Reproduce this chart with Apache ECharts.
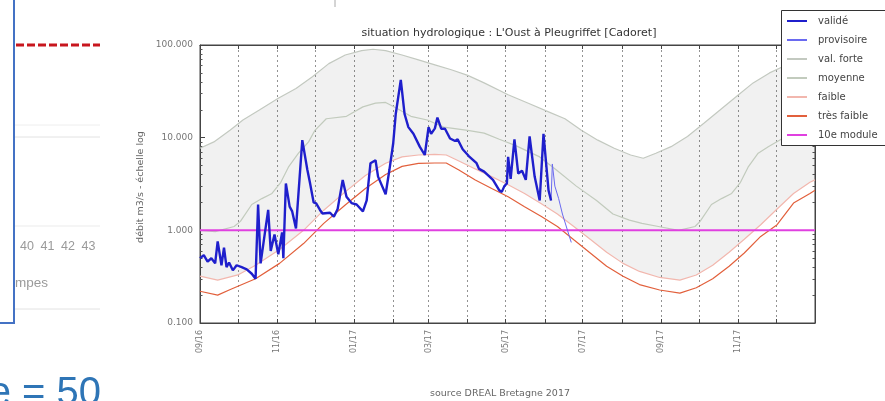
<!DOCTYPE html>
<html><head><meta charset="utf-8">
<script src="https://cdn.jsdelivr.net/npm/echarts@6/dist/echarts.min.js"></script>
<style>html,body{margin:0;padding:0;background:#fff}#c{width:885px;height:401px}</style>
</head><body><div id="c"></div>
<script>
const xMin = '2016-09-01', xMax = '2018-01-01';
const legendNames = ['validé','provisoire','val. forte','moyenne','faible','très faible','10e module'];

const valide = [
['2016-09-01',0.50],['2016-09-04',0.54],['2016-09-07',0.46],['2016-09-10',0.50],['2016-09-13',0.44],
['2016-09-15',0.76],['2016-09-18',0.42],['2016-09-20',0.65],['2016-09-22',0.40],['2016-09-24',0.45],
['2016-09-27',0.37],['2016-09-30',0.42],['2016-10-04',0.40],['2016-10-08',0.38],['2016-10-12',0.34],
['2016-10-15',0.30],['2016-10-17',1.90],['2016-10-19',0.44],['2016-10-22',0.86],['2016-10-25',1.66],
['2016-10-27',0.60],['2016-10-30',0.90],['2016-11-02',0.55],['2016-11-05',0.95],['2016-11-06',0.50],
['2016-11-08',3.2],['2016-11-11',1.8],['2016-11-13',1.6],['2016-11-16',1.05],['2016-11-17',1.0],
['2016-11-21',9.4],['2016-11-25',4.5],['2016-11-27',3.3],['2016-11-30',2.0],['2016-12-02',1.95],
['2016-12-05',1.66],['2016-12-07',1.52],['2016-12-13',1.55],['2016-12-16',1.40],['2016-12-19',1.70],
['2016-12-23',3.5],['2016-12-26',2.3],['2016-12-30',1.97],['2017-01-03',1.90],['2017-01-08',1.60],
['2017-01-11',2.1],['2017-01-14',5.3],['2017-01-18',5.7],['2017-01-20',3.8],['2017-01-26',2.45],
['2017-01-29',4.5],['2017-02-01',8.7],['2017-02-03',18],['2017-02-07',42],['2017-02-10',18],
['2017-02-13',13],['2017-02-17',11],['2017-02-22',8.0],['2017-02-26',6.5],['2017-03-01',13],
['2017-03-03',11],['2017-03-06',12.6],['2017-03-08',16.5],['2017-03-11',12.5],['2017-03-14',12.5],
['2017-03-18',9.8],['2017-03-22',9.2],['2017-03-24',9.6],['2017-03-28',7.5],['2017-04-02',6.3],
['2017-04-08',5.3],['2017-04-10',4.6],['2017-04-14',4.3],['2017-04-21',3.5],['2017-04-26',2.7],
['2017-04-28',2.6],['2017-04-30',3.0],['2017-05-02',3.2],['2017-05-03',6.2],['2017-05-05',3.6],
['2017-05-08',9.6],['2017-05-11',4.1],['2017-05-14',4.4],['2017-05-17',3.5],['2017-05-20',10.3],
['2017-05-24',3.8],['2017-05-28',2.1],['2017-05-31',11],['2017-06-04',2.7],['2017-06-06',2.1]
];
const provisoire = [
['2017-06-06',2.1],['2017-06-07',5.2],['2017-06-09',3.0],['2017-06-12',2.2],['2017-06-15',1.5],
['2017-06-19',1.0],['2017-06-22',0.74]
];
const valForte = [
['2016-09-01',7.7],['2016-09-12',9.0],['2016-09-25',12.1],['2016-10-05',15.5],['2016-10-18',19.9],
['2016-11-02',26.6],['2016-11-16',34],['2016-11-29',45.5],['2016-12-12',63],['2016-12-25',78],
['2017-01-07',87],['2017-01-16',90],['2017-01-26',87],['2017-02-08',78],['2017-02-21',69],
['2017-03-06',61],['2017-03-19',54],['2017-04-01',47],['2017-04-14',39],['2017-05-03',29],
['2017-05-19',23.5],['2017-06-04',19],['2017-06-17',16],['2017-06-30',12],['2017-07-13',9.4],
['2017-07-26',7.7],['2017-08-08',6.5],['2017-08-18',6.0],['2017-08-28',6.8],['2017-09-09',8.0],
['2017-09-22',10.3],['2017-10-05',14.3],['2017-10-18',20],['2017-10-31',28],['2017-11-13',39],
['2017-11-26',50],['2017-12-06',58],['2017-12-19',72],['2018-01-01',84]
];
const moyenne = [
['2016-09-01',1.0],['2016-09-13',0.97],['2016-09-28',1.1],['2016-10-03',1.25],['2016-10-12',1.9],
['2016-10-20',2.2],['2016-10-28',2.5],['2016-11-04',3.3],['2016-11-10',4.8],['2016-11-18',6.8],
['2016-11-26',9.0],['2016-12-01',12],['2016-12-10',16],['2016-12-26',17],['2017-01-08',21.5],
['2017-01-18',23.6],['2017-01-26',24],['2017-02-03',21],['2017-02-15',17],['2017-02-28',15.5],
['2017-03-13',13],['2017-04-01',12],['2017-04-14',11.2],['2017-04-26',9.6],['2017-05-09',8.2],
['2017-05-28',6.2],['2017-06-10',4.5],['2017-06-26',3.0],['2017-07-12',2.1],['2017-07-25',1.5],
['2017-08-07',1.29],['2017-08-17',1.19],['2017-08-30',1.1],['2017-09-15',1.0],['2017-09-28',1.1],
['2017-10-02',1.25],['2017-10-11',1.9],['2017-10-19',2.2],['2017-10-27',2.5],['2017-11-03',3.3],
['2017-11-09',4.8],['2017-11-17',6.8],['2017-11-25',8.0],['2017-12-09',10.3],['2018-01-01',15]
];
const faible = [
['2016-09-01',0.32],['2016-09-15',0.29],['2016-10-01',0.33],['2016-10-15',0.42],['2016-11-03',0.62],
['2016-11-22',1.0],['2016-12-08',1.65],['2016-12-25',2.6],['2017-01-10',3.9],['2017-01-26',5.3],
['2017-02-08',6.2],['2017-02-21',6.5],['2017-03-06',6.6],['2017-03-15',6.5],['2017-03-25',5.6],
['2017-04-07',4.6],['2017-04-20',3.8],['2017-05-03',3.1],['2017-05-16',2.5],['2017-05-29',1.95],
['2017-06-11',1.5],['2017-06-24',1.1],['2017-07-07',0.8],['2017-07-20',0.58],['2017-08-02',0.44],
['2017-08-15',0.36],['2017-08-31',0.31],['2017-09-16',0.29],['2017-09-29',0.33],['2017-10-12',0.42],
['2017-10-25',0.58],['2017-11-06',0.8],['2017-11-19',1.15],['2017-12-02',1.7],['2017-12-15',2.5],
['2017-12-28',3.3],['2018-01-01',3.5]
];
const tresFaible = [
['2016-09-01',0.22],['2016-09-15',0.20],['2016-09-25',0.23],['2016-10-15',0.30],['2016-11-03',0.44],
['2016-11-22',0.72],['2016-12-08',1.19],['2016-12-25',1.88],['2017-01-10',2.83],['2017-01-26',4.0],
['2017-02-08',4.9],['2017-02-21',5.27],['2017-03-06',5.33],['2017-03-15',5.33],['2017-03-25',4.48],
['2017-04-07',3.49],['2017-04-20',2.83],['2017-05-03',2.3],['2017-05-16',1.8],['2017-05-29',1.42],
['2017-06-11',1.1],['2017-06-24',0.79],['2017-07-07',0.57],['2017-07-20',0.41],['2017-08-02',0.32],
['2017-08-15',0.26],['2017-08-31',0.227],['2017-09-16',0.21],['2017-09-29',0.24],['2017-10-12',0.30],
['2017-10-25',0.41],['2017-11-06',0.57],['2017-11-19',0.86],['2017-12-02',1.15],['2017-12-15',1.97],
['2017-12-28',2.5],['2018-01-01',2.7]
];
const module10 = [['2016-09-01',1.0],['2018-01-01',1.0]];
const otherAxisLabels = ['0', '40', '41', '42', '43'];

const chart = echarts.init(document.getElementById('c'));
const T = s => echarts.time.parse(s).getTime();
const xMaxT = T(xMax);
const MONTH = 30.4 * 86400000;

function xFmt(val) {
  if (val >= xMaxT - 86400000) return '';
  const d = new Date(val);
  const m = d.getMonth() + 1;
  if (m % 2 === 0) return '';
  return String(m).padStart(2, '0') + '/' + String(d.getFullYear() % 100).padStart(2, '0');
}

const lineS = (name, data, color, width, z) => ({
  name, type: 'line', data, symbol: 'none', showSymbol: false, z: z || 3,
  lineStyle: { color, width }, itemStyle: { color }, silent: true
});

const F = "'DejaVu Sans', sans-serif";
const L = "'Liberation Sans', sans-serif";

const otherLabelsGraphic = otherAxisLabels.map((t, i) => ({
  type: 'text', x: i === 0 ? 12 : 27 + (i - 1) * 20.5, y: 247,
  style: { text: t, fontSize: 12.5, fill: '#9a9a9a', fontFamily: L, align: 'center', verticalAlign: 'middle' }
}));

chart.setOption({
  animation: false,
  backgroundColor: '#fff',
  textStyle: { fontFamily: F },
  grid: { left: 200, right: 70, top: 45, bottom: 78, show: true, borderColor: '#444', borderWidth: 1, containLabel: false },
  legend: {
    data: legendNames, orient: 'vertical', left: 786, top: 16,
    itemWidth: 20, itemHeight: 8, itemGap: 9.0,
    padding: 0,
    backgroundColor: 'transparent', borderWidth: 0,
    itemStyle: { color: 'rgba(0,0,0,0)', borderColor: 'rgba(0,0,0,0)', borderWidth: 0, opacity: 0 },
    textStyle: { fontSize: 10, lineHeight: 10, color: '#444', fontFamily: F, padding: [0, 0, 0, 6] },
    selectedMode: false, z: 12
  },
  xAxis: [{
    type: 'time', min: xMin, max: xMax, splitNumber: 16,
    minInterval: MONTH * 0.9, maxInterval: MONTH * 1.05,
    axisLine: { lineStyle: { color: '#444' } },
    axisTick: { inside: true, length: 4, lineStyle: { color: '#444' } },
    axisLabel: { rotate: 90, fontSize: 8, color: '#777', margin: 7, formatter: xFmt, hideOverlap: false, fontFamily: F },
    splitLine: { show: true, lineStyle: { color: '#777', type: [2, 3], width: 0.8 } }
  }, {
    type: 'time', position: 'top', min: xMin, max: xMax, splitNumber: 16,
    minInterval: MONTH * 0.9, maxInterval: MONTH * 1.05,
    axisLine: { lineStyle: { color: '#444' } },
    axisTick: { inside: true, length: 4, lineStyle: { color: '#444' } },
    axisLabel: { show: false }, splitLine: { show: false }
  }],
  yAxis: [{
    type: 'log', logBase: 10, min: 0.1, max: 100,
    axisLine: { show: true, lineStyle: { color: '#444' } },
    axisTick: { show: true, inside: true, length: 5, lineStyle: { color: '#444' } },
    minorTick: { show: true, splitNumber: 9, length: 2.5, lineStyle: { color: '#555' } },
    axisLabel: { formatter: v => Number(v).toFixed(3), fontSize: 9, color: '#777', margin: 7, fontFamily: F },
    splitLine: { show: false }
  }, {
    type: 'log', logBase: 10, min: 0.1, max: 100, position: 'right',
    axisLine: { show: true, lineStyle: { color: '#444' } },
    axisTick: { show: true, inside: true, length: 5, lineStyle: { color: '#444' } },
    minorTick: { show: true, splitNumber: 9, length: 2.5, lineStyle: { color: '#555' } },
    axisLabel: { show: false }, splitLine: { show: false }
  }],
  series: [
    {
      name: 'band', type: 'custom', silent: true, z: 1,
      data: [[T(xMin), 1]],
      renderItem: (params, api) => {
        const pts = [];
        valForte.forEach(d => pts.push(api.coord([T(d[0]), d[1]])));
        for (let i = faible.length - 1; i >= 0; i--) pts.push(api.coord([T(faible[i][0]), faible[i][1]]));
        return { type: 'polygon', shape: { points: pts }, style: { fill: 'rgba(0,0,0,0.055)' } };
      }
    },
    lineS('val. forte', valForte, '#c3c9c0', 1.2),
    lineS('moyenne', moyenne, '#c2cbbd', 1.2),
    lineS('faible', faible, '#f2b7ae', 1.2),
    lineS('très faible', tresFaible, '#e2603c', 1.2),
    lineS('10e module', module10, '#e040e0', 2, 4),
    lineS('provisoire', provisoire, '#6a6af0', 1, 5),
    lineS('validé', valide, '#1f1fcc', 2.4, 6)
  ],
  graphic: [
    { type: 'rect', z: 11, shape: { x: 781.5, y: 10.5, width: 130, height: 135 }, style: { fill: '#fff', stroke: '#333', lineWidth: 1 } },
    { type: 'line', shape: { x1: 335, y1: 0, x2: 335, y2: 7 }, style: { stroke: '#aaa', lineWidth: 1 } },
    { type: 'line', shape: { x1: 16, y1: 45, x2: 100, y2: 45 }, style: { stroke: '#c8161e', lineWidth: 3, lineDash: [8, 3] } },
    { type: 'line', shape: { x1: 15, y1: 125, x2: 100, y2: 125 }, style: { stroke: '#eeeeee', lineWidth: 1 } },
    { type: 'line', shape: { x1: 15, y1: 137, x2: 100, y2: 137 }, style: { stroke: '#e2e2e2', lineWidth: 1 } },
    { type: 'line', shape: { x1: 15, y1: 226, x2: 100, y2: 226 }, style: { stroke: '#ebebeb', lineWidth: 1 } },
    { type: 'line', shape: { x1: 15, y1: 309, x2: 100, y2: 309 }, style: { stroke: '#e2e2e2', lineWidth: 1 } },
    ...otherLabelsGraphic,
    { type: 'rect', shape: { x: 100.5, y: 236, width: 40, height: 22 }, style: { fill: '#fff' } },
    { type: 'text', x: 15, y: 283, style: { text: 'mpes', fontSize: 13.5, fill: '#9a9a9a', fontFamily: L, verticalAlign: 'middle' } },
    { type: 'rect', shape: { x: 0, y: 236, width: 13, height: 60 }, style: { fill: '#fff' } },
    { type: 'line', shape: { x1: 14, y1: 0, x2: 14, y2: 323 }, style: { stroke: '#4472c4', lineWidth: 2 } },
    { type: 'line', shape: { x1: 0, y1: 323, x2: 15, y2: 323 }, style: { stroke: '#4472c4', lineWidth: 2 } },
    { type: 'text', x: 101, y: 394, style: { text: 'e = 50', fontSize: 40, fill: '#2e75b6', fontFamily: L, align: 'right', verticalAlign: 'middle' } },
    { type: 'text', x: 509, y: 33, style: { text: "situation hydrologique : L'Oust à Pleugriffet [Cadoret]", fontSize: 11, fill: '#333', fontFamily: F, align: 'center', verticalAlign: 'middle' } },
    { type: 'text', x: 141, y: 187, rotation: Math.PI / 2, style: { text: 'débit m3/s - échelle log', fontSize: 9.5, fill: '#666', fontFamily: F, align: 'center', verticalAlign: 'middle' } },
    { type: 'text', x: 500, y: 394, style: { text: 'source DREAL Bretagne 2017', fontSize: 9.5, fill: '#666', fontFamily: F, align: 'center', verticalAlign: 'middle' } }
  ]
});
</script></body></html>
